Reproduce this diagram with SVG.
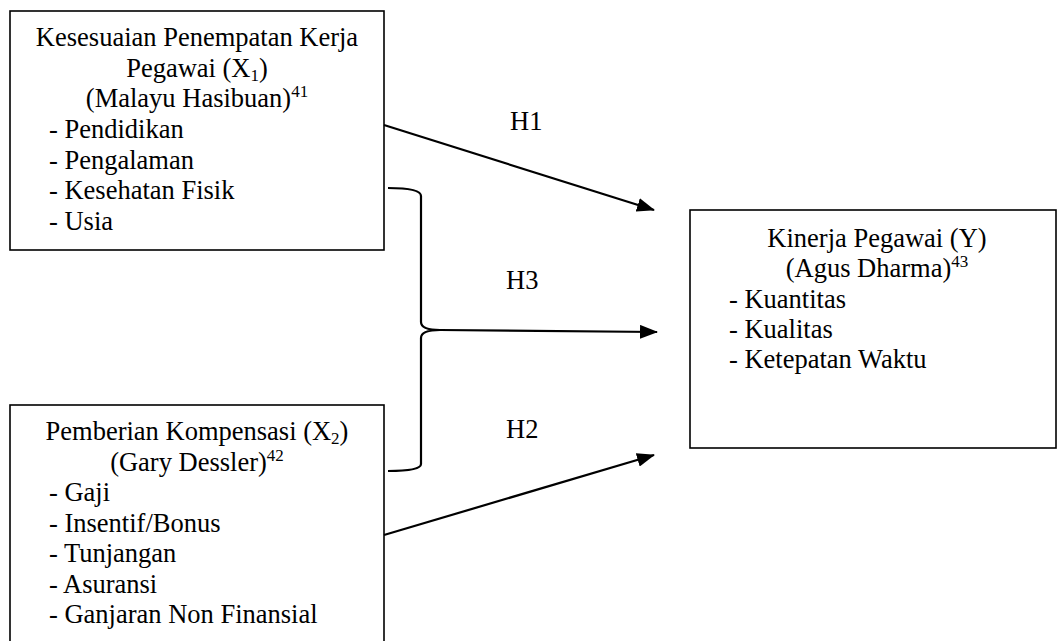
<svg xmlns="http://www.w3.org/2000/svg" width="1058" height="641" viewBox="0 0 1058 641">
  <style>
    text { font-family: "Liberation Serif", "Times New Roman", serif; font-size: 26.5px; fill: #000; }
    .c { text-anchor: middle; }
    .s { font-size: 17px; }
    .box { fill: #fff; stroke: #000; stroke-width: 1.6; }
    .ln { fill: none; stroke: #000; stroke-width: 2.2; }
  </style>
  <defs>
    <marker id="arr" markerWidth="18" markerHeight="14" refX="17" refY="7" orient="auto" markerUnits="userSpaceOnUse">
      <path d="M0,0 L18,7 L0,14 Z" fill="#000"/>
    </marker>
  </defs>
  <rect width="1058" height="641" fill="#fff"/>

  <g id="node-x1">
    <rect class="box" x="10" y="11" width="374" height="239"/>
    <text class="c" x="197" y="46">Kesesuaian Penempatan Kerja</text>
    <text class="c" x="197" y="77">Pegawai (X<tspan class="s" dy="4">1</tspan><tspan dy="-4">)</tspan></text>
    <text class="c" x="197" y="107">(Malayu Hasibuan)<tspan class="s" dy="-10">41</tspan></text>
    <text x="49" y="138">- Pendidikan</text>
    <text x="49" y="168.5">- Pengalaman</text>
    <text x="49" y="199">- Kesehatan Fisik</text>
    <text x="49" y="229.5">- Usia</text>
  </g>

  <g id="node-x2">
    <rect class="box" x="10" y="405" width="374" height="245"/>
    <text class="c" x="197" y="440">Pemberian Kompensasi (X<tspan class="s" dy="4">2</tspan><tspan dy="-4">)</tspan></text>
    <text class="c" x="197" y="471">(Gary Dessler)<tspan class="s" dy="-10">42</tspan></text>
    <text x="49" y="501">- Gaji</text>
    <text x="49" y="531.5">- Insentif/Bonus</text>
    <text x="49" y="562">- Tunjangan</text>
    <text x="49" y="592.5">- Asuransi</text>
    <text x="49" y="623">- Ganjaran Non Finansial</text>
  </g>

  <g id="node-y">
    <rect class="box" x="690" y="210" width="366" height="238"/>
    <text class="c" x="877" y="247">Kinerja Pegawai (Y)</text>
    <text class="c" x="877" y="277">(Agus Dharma)<tspan class="s" dy="-10">43</tspan></text>
    <text x="729" y="307.5">- Kuantitas</text>
    <text x="729" y="338">- Kualitas</text>
    <text x="729" y="368">- Ketepatan Waktu</text>
  </g>

  <g id="connectors">
    <line class="ln" x1="384" y1="125" x2="654" y2="210" marker-end="url(#arr)"/>
    <line class="ln" x1="384" y1="535" x2="654" y2="455" marker-end="url(#arr)"/>
    <path class="ln" d="M388,188 Q421,188 421,196 V322 Q421,330 440,330 Q421,330 421,338 V464 Q421,471 388,471"/>
    <line class="ln" x1="440" y1="330" x2="657" y2="332" marker-end="url(#arr)"/>
  </g>

  <g id="labels">
    <text x="510" y="130">H1</text>
    <text x="506" y="289">H3</text>
    <text x="506" y="438">H2</text>
  </g>
</svg>
